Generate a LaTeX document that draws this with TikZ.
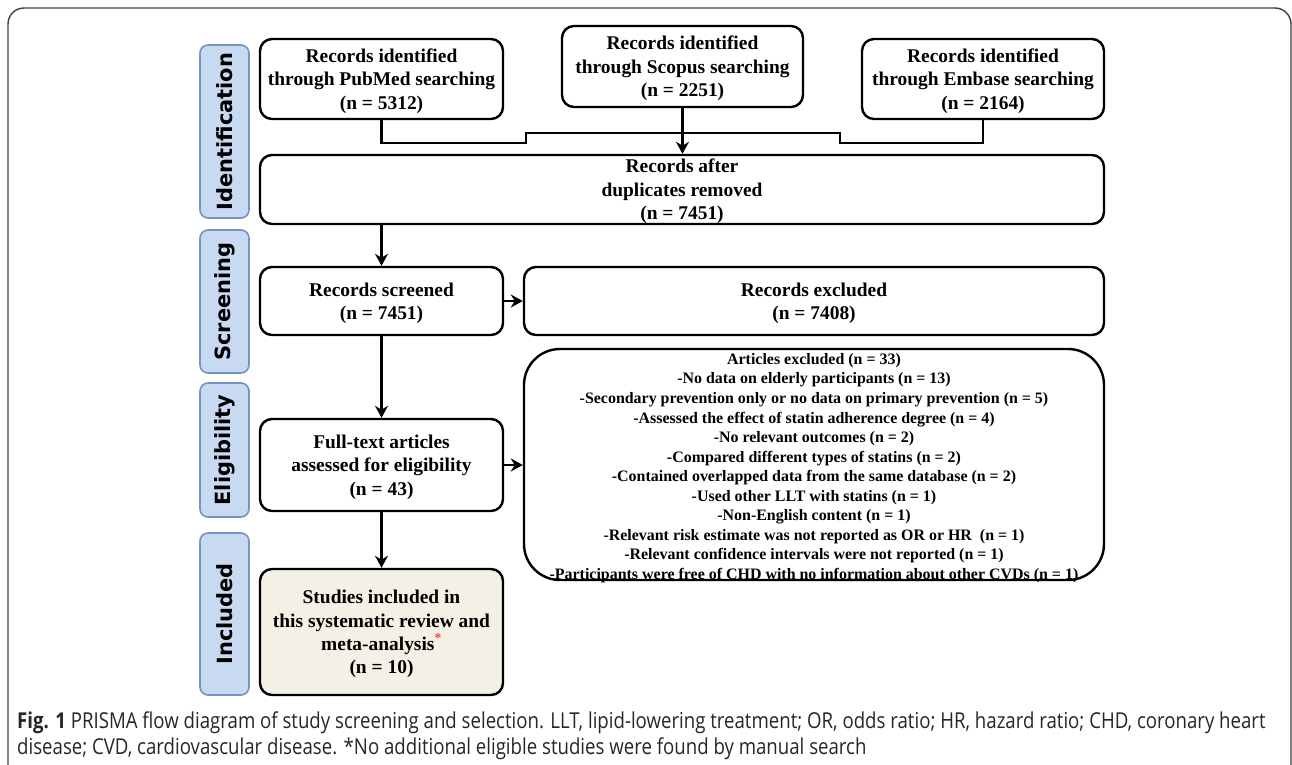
\documentclass[tikz,border=0pt]{standalone}
\usepackage{fontspec}
\setmainfont{Liberation Serif}
\newfontfamily\stagefont{DejaVu Sans}
\newfontfamily\capfont[FakeStretch=0.85]{Open Sans}
\usetikzlibrary{arrows.meta}
\tikzset{
  box/.style={
    draw=black,
    line width=2.4bp,
    rounded corners=12bp,
    align=center,
    inner sep=0pt,
    text depth=-10bp,
    font=\fontsize{19.5}{23.5}\selectfont\bfseries
  },
  box-plain/.style={box, fill=white},
  box-fill/.style={box, fill=incfill},
  box-list/.style={box, rounded corners=36bp},
  list-text/.style={align=center, inner sep=0pt, font=\fontsize{16}{19.6}\selectfont\bfseries},
  stage/.style={draw=stageedge, fill=stagefill, line width=1.6bp, rounded corners=8bp,
    rotate=90, minimum height=49bp, inner sep=0pt, font=\stagefont\bfseries\fontsize{21}{21}\selectfont},
  flow/.style={line width=2.4bp},
  flow-arrow/.style={flow, -{Stealth[length=12bp, width=13bp]}},
  cap-text/.style={align=left, inner sep=0pt, text=black!85, font=\capfont\fontsize{22}{26}\selectfont}
}
\definecolor{stagefill}{RGB}{200,218,242}
\definecolor{stageedge}{RGB}{120,146,190}
\definecolor{incfill}{RGB}{243,240,230}

\begin{document}
\begin{tikzpicture}[x=1bp, y=-1bp]
  \useasboundingbox (0,0) rectangle (1292,765);
  % outer figure frame
  \draw[rounded corners=16bp, line width=1.4bp, draw=black!75] (8,800) |- (1291,8) -- (1291,800);

  % stage labels on the left
  \foreach \name/\ypos/\len/\txt in {ident/131.5/173/Identification, screen/301.5/143/Screening,
    elig/450/134/Eligibility, incl/614/162/Included} {
    \node[stage, minimum width=\len bp] (stage-\name) at (224.5,\ypos) {\txt};
  }

  % identification
  \node[box-plain, minimum width=243bp, minimum height=80bp] (pubmed) at (381.5,79)
    {Records identified\\through PubMed searching\\(n = 5312)};
  \node[box-plain, minimum width=241bp, minimum height=81bp] (scopus) at (682.5,66.5)
    {Records identified\\through Scopus searching\\(n = 2251)};
  \node[box-plain, minimum width=242bp, minimum height=80bp] (embase) at (983,79)
    {Records identified\\through Embase searching\\(n = 2164)};
  \node[box-plain, minimum width=844bp, minimum height=69bp] (dup) at (682,189.5)
    {Records after\\duplicates removed\\(n = 7451)};

  % screening and eligibility
  \node[box-plain, minimum width=243bp, minimum height=68bp] (screened) at (381.5,301)
    {Records screened\\(n = 7451)};
  \node[box-plain, minimum width=580bp, minimum height=68bp] (excluded) at (814,301)
    {Records excluded\\(n = 7408)};
  \node[box-plain, minimum width=243bp, minimum height=92bp] (fulltext) at (381.5,465)
    {Full-text articles\\assessed for eligibility\\(n = 43)};
  \node[box-list, minimum width=580bp, minimum height=231bp] (articles) at (814,464.5) {};
  \node[list-text] (reasons) at (814,468) {Articles excluded (n = 33)\\
    -No data on elderly participants (n = 13)\\
    -Secondary prevention only or no data on primary prevention (n = 5)\\
    -Assessed the effect of statin adherence degree (n = 4)\\
    -No relevant outcomes (n = 2)\\
    -Compared different types of statins (n = 2)\\
    -Contained overlapped data from the same database (n = 2)\\
    -Used other LLT with statins (n = 1)\\
    -Non-English content (n = 1)\\
    -Relevant risk estimate was not reported as OR or HR~ (n = 1)\\
    -Relevant confidence intervals were not reported (n = 1)\\
    -Participants were free of CHD with no information about other CVDs (n = 1)};

  % included
  \node[box-fill, minimum width=243bp, minimum height=126bp] (included) at (381.5,632)
    {Studies included in\\this systematic review and\\meta-analysis\textcolor{red!75}{\textsuperscript{*}}\\(n = 10)};

  % connectors
  \coordinate (low-l) at (526,143);
  \coordinate (up-l) at (526,133);
  \coordinate (up-r) at (840,133);
  \coordinate (low-r) at (840,143);
  \draw[flow] (pubmed.south) |- (low-l) -- (up-l) -- (up-r) -- (low-r) -| (embase.south);
  \draw[flow-arrow] (scopus.south) -- (scopus.south |- dup.north);
  \draw[flow-arrow] (dup.south -| screened.north) -- (screened.north);
  \draw[flow-arrow] (screened.east) -- (excluded.west);
  \draw[flow-arrow] (screened.south) -- (fulltext.north);
  \draw[flow-arrow] (fulltext.east) -- (fulltext.east -| articles.west);
  \draw[flow-arrow] (fulltext.south) -- (included.north);

  % caption
  \node[cap-text, anchor=north west] (caption) at (17,712)
    {{\bfseries Fig. 1} PRISMA flow diagram of study screening and selection. LLT, lipid-lowering treatment; OR, odds ratio; HR, hazard ratio; CHD, coronary heart\\
    disease; CVD, cardiovascular disease. *No additional eligible studies were found by manual search};
\end{tikzpicture}
\end{document}
